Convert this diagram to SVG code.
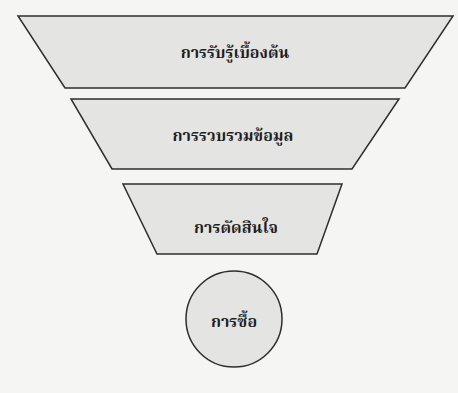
<svg xmlns="http://www.w3.org/2000/svg" width="458" height="393" viewBox="0 0 458 393">
<style>
.shape{fill:#e4e4e2;stroke:#2e2e2e;stroke-width:1.5}
.lbl{font-family:"Noto Serif Thai","Noto Sans Thai Looped","Noto Sans Thai","DejaVu Sans","Noto Sans",sans-serif;font-weight:bold;font-size:16px;fill:#1e1e1e;text-anchor:middle}
</style>
<rect x="0" y="0" width="458" height="393" fill="#f5f5f3"/>
<g id="stage1">
<polygon class="shape" points="18,16 453,16 405,88 65,88"/>
<text class="lbl" x="235" y="58">การรับรู้เบื้องต้น</text>
</g>
<g id="stage2">
<polygon class="shape" points="71,99 399,99 352,169 112,169"/>
<text class="lbl" x="233" y="141">การรวบรวมข้อมูล</text>
</g>
<g id="stage3">
<polygon class="shape" points="123,184 342,184 317,254 157,254"/>
<text class="lbl" x="236" y="233">การตัดสินใจ</text>
</g>
<g id="stage4">
<circle class="shape" cx="234" cy="319" r="48"/>
<text class="lbl" x="234" y="327">การซื้อ</text>
</g>
<g id="connectors"></g>
</svg>
